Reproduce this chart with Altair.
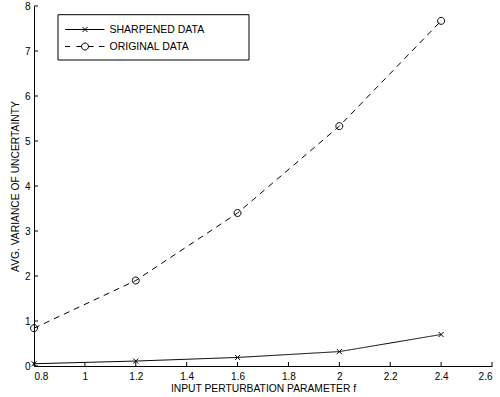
import altair as alt
import pandas as pd

# Values read per input perturbation parameter f
f_values = [0.8, 1.2, 1.6, 2.0, 2.4]
sharpened = [0.05, 0.11, 0.19, 0.32, 0.70]
original = [0.84, 1.90, 3.40, 5.33, 7.67]
series_names = ["SHARPENED DATA", "ORIGINAL DATA"]

x_ticks = [0.8, 1.0, 1.2, 1.4, 1.6, 1.8, 2.0, 2.2, 2.4, 2.6]
y_ticks = [0, 1, 2, 3, 4, 5, 6, 7, 8]

df = pd.DataFrame({
    "f": f_values * 2,
    "value": sharpened + original,
    "series": [series_names[0]] * len(f_values) + [series_names[1]] * len(f_values),
})
xtick_df = pd.DataFrame({"f": x_ticks})
ytick_df = pd.DataFrame({"value": y_ticks})
box_df = pd.DataFrame({"box": ["legend"]})

FONT = "Liberation Sans"

x_scale = alt.Scale(domain=[0.8, 2.6], nice=False, zero=False)
y_scale = alt.Scale(domain=[0, 8], nice=False, zero=False)

x_axis = alt.Axis(values=x_ticks, format="~g", title="INPUT PERTURBATION PARAMETER f",
                  ticks=False, grid=False, labelPadding=5, titlePadding=2)
y_axis = alt.Axis(values=y_ticks, format="~g", title="AVG. VARIANCE OF UNCERTAINTY",
                  ticks=False, grid=False, labelPadding=4, titlePadding=4)

x_enc = alt.X("f:Q", scale=x_scale, axis=x_axis)
y_enc = alt.Y("value:Q", scale=y_scale, axis=y_axis)

# Marker outlines: an "x" for sharpened data, an open circle for original data
cross_path = "M-1,-1L1,1M-1,1L1,-1"
circle_path = "M1.4,0A1.4,1.4,0,1,1,-1.4,0A1.4,1.4,0,1,1,1.4,0"

# Legend keys: line sample with its marker in the middle
sharp_key = "M-4,0H3.9M-0.5,-0.5L0.5,0.5M-0.5,0.5L0.5,-0.5"
orig_key = ("M-4,0H-3M-1.7,0H-0.7M0.7,0H1.7M2.8,0H3.9"
            "M0.7,0A0.7,0.7,0,1,1,-0.7,0A0.7,0.7,0,1,1,0.7,0")

lines = alt.Chart(df).mark_line(color="black", strokeWidth=1).encode(
    x=x_enc,
    y=y_enc,
    strokeDash=alt.StrokeDash(
        "series:N",
        scale=alt.Scale(domain=series_names, range=[[1, 0], [6, 5]]),
        legend=None,
    ),
)

points = alt.Chart(df).mark_point(filled=False, color="black", strokeWidth=1, size=25, opacity=1).encode(
    x=x_enc,
    y=y_enc,
    shape=alt.Shape(
        "series:N",
        scale=alt.Scale(domain=series_names, range=[cross_path, circle_path]),
        legend=None,
    ),
)

legend_frame = alt.Chart(box_df).mark_rect(fill="white", stroke="black", strokeWidth=1).encode(
    x=alt.value(24), x2=alt.value(215), y=alt.value(8.7), y2=alt.value(54)
)

legend_keys = alt.Chart(df).mark_point(filled=False, color="black", strokeWidth=1, size=100, opacity=0).encode(
    x=x_enc,
    y=y_enc,
    shape=alt.Shape(
        "series:N",
        scale=alt.Scale(domain=series_names, range=[sharp_key, orig_key]),
        legend=alt.Legend(
            title=None,
            orient="none",
            legendX=45.5,
            legendY=18,
            padding=0,
            symbolSize=100,
            symbolOpacity=1,
            symbolStrokeWidth=1,
            symbolStrokeColor="black",
            symbolFillColor="transparent",
            labelFont=FONT,
            labelFontSize=10.5,
            labelColor="black",
            labelOffset=19,
            rowPadding=6,
        ),
    ),
)

x_tick_marks = alt.Chart(xtick_df).mark_rule(color="black", strokeWidth=1).encode(
    x=x_enc, y=alt.value(360), y2=alt.value(356)
)
y_tick_marks = alt.Chart(ytick_df).mark_rule(color="black", strokeWidth=1).encode(
    y=y_enc, x=alt.value(0), x2=alt.value(4)
)

chart = (
    alt.layer(legend_frame, lines, points, x_tick_marks, y_tick_marks, legend_keys)
    .resolve_scale(shape="independent")
    .properties(
        width=458,
        height=360,
        autosize=alt.AutoSizeParams(type="none"),
        padding={"left": 34, "top": 6, "right": 8, "bottom": 31},
        background="white",
    )
    .configure_view(stroke=None)
    .configure_axis(
        domainColor="black",
        domainWidth=1,
        labelColor="black",
        labelFont=FONT,
        labelFontSize=10,
        titleColor="black",
        titleFont=FONT,
        titleFontSize=10.3,
        titleFontWeight="normal",
    )
)

chart.save("out.html", embed_options={"renderer": "svg", "actions": False})
